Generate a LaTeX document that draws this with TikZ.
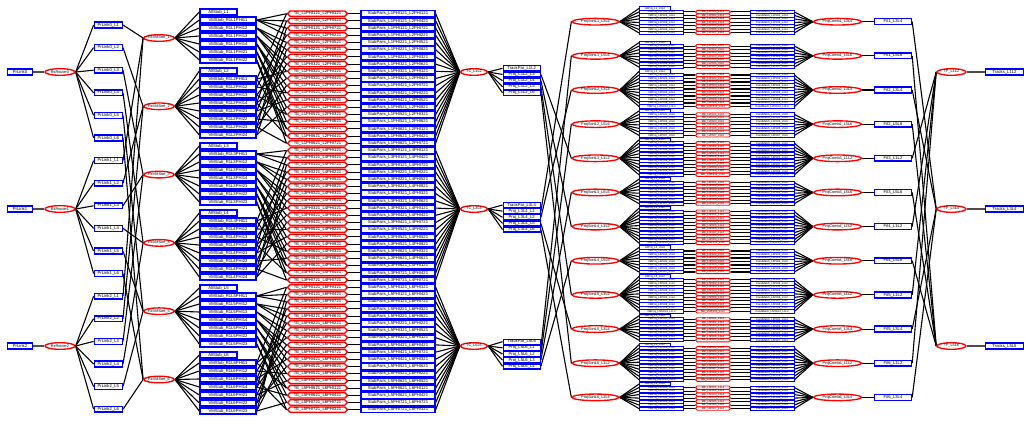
\documentclass[tikz,border=0pt]{standalone}
\usepackage{fontspec}
\setmainfont{Liberation Sans}
\usetikzlibrary{shapes.geometric,shapes.symbols}
\definecolor{memblue}{HTML}{0000FF}
\definecolor{procred}{HTML}{FF0000}
\pgfdeclarelayer{back}
\pgfdeclarelayer{bg}
\pgfsetlayers{back,bg,main}
\newcommand\myfontA{\fontsize{4.2}{4.2}\selectfont}
\newcommand\myfontE{\fontsize{3.8}{3.8}\selectfont}
\newcommand\myfontD{\fontsize{2.7}{2.7}\selectfont}
\tikzset{
  mem/.style={rectangle, draw=memblue, fill=white, line width=1.4pt, inner sep=0pt, minimum height=5.8pt, font=\myfontA, text=black},
  memd/.style={mem, line width=0.9pt, minimum height=3.2pt, font=\myfontD},
  proc/.style={ellipse, draw=procred, fill=white, line width=1.35pt, inner sep=0pt, minimum height=6.6pt, font=\myfontE, text=black},
  hexa/.style={signal, signal to=east and west, signal pointer angle=90, draw=procred, fill=white, line width=1.35pt, inner sep=0.3pt, minimum height=5.4pt, font=\myfontA, text=black},
  hexd/.style={hexa, line width=0.9pt, minimum height=3.2pt, font=\myfontD},
  wire/.style={draw=black, line width=1.1pt},
  fatwire/.style={draw=black!70, line width=1.9pt},
}
\begin{document}
\begin{tikzpicture}[x=1pt,y=-1pt]
\useasboundingbox (0,0) rectangle (1028,422);
\begin{pgfonlayer}{back}
\fill[white] (0,0) rectangle (1028,422);
\end{pgfonlayer}

% ================= NODES =================
% input links and routers
\foreach \kk/\y in {0/72,1/209,2/346}{
  \node[mem, minimum width=25pt] (pl\kk) at (20,\y) {PrLink\kk};
  \node[proc, minimum width=30pt] (rx\kk) at (60,\y) {RxRouter\kk};
}
% VM sorters
\foreach \jj in {1,...,6}{
  \pgfmathsetmacro\y{38+68.3*(\jj-1)}
  \node[proc, minimum width=29pt] (vms\jj) at (159,\y) {RxVMSort\_\jj};
}
% per-layer links
\foreach \i in {0,...,17}{
  \pgfmathtruncatemacro\kk{int(\i/6)}
  \pgfmathtruncatemacro\jj{mod(\i,6)+1}
  \pgfmathsetmacro\y{25+\i*22.6}
  \node[mem, minimum width=28pt] (plk\i) at (108.3,\y) {PrLink\kk\_L\jj};
}
% all stubs and VM stubs
\foreach \g/\hy/\nn in {1/12/6,2/71/8,3/146/7,4/213/8,5/288/7,6/355/7}{
  \node[mem, minimum width=37pt, anchor=west] (as\g) at (199.3,\hy) {AllStub\_L\g};
  \foreach \q in {1,...,\nn}{
    \pgfmathsetmacro\y{\hy+8*\q}
    \pgfmathtruncatemacro\pa{int((\q-1)/4)+1}
    \pgfmathtruncatemacro\pb{mod(\q-1,4)+1}
    \node[mem, minimum width=56pt, anchor=west] (vm\g-\q) at (199.3,\y) {VMStub\_R1L\g PHI\pa\pb};
  }
}
% tracklet calculators, parameters, fitters, outputs
\foreach \s/\sn/\y in {0/L1L2/72,1/L3L4/209,2/L5L6/346}{
  \node[proc, minimum width=27pt] (tc\s) at (474,\y) {TC\_\sn};
  \pgfmathsetmacro\yy{68.3+136.7*\s}
  \node[mem, minimum width=37pt, minimum height=5pt] (tp\s) at (521.7,\yy) {TrackPar\_\sn};
  \node[proc, minimum width=29pt] (tf\s) at (951.4,\y) {TF\_\sn};
  \node[mem, minimum width=38pt] (tr\s) at (1004.5,\y) {Tracks\_\sn};
}
% tracklet engines and stub pairs
\foreach \i in {0,...,55}{
  \pgfmathtruncatemacro\s{(\i>18)+(\i>37)}
  \pgfmathtruncatemacro\jj{\i-19*\s}
  \pgfmathtruncatemacro\nte{\s==2 ? 18 : 19}
  \pgfmathtruncatemacro\gin{2*\s+1}
  \pgfmathtruncatemacro\gout{2*\s+2}
  \pgfmathtruncatemacro\nIn{{6,8,7,8,7,7}[2*\s]}
  \pgfmathtruncatemacro\nOut{{6,8,7,8,7,7}[2*\s+1]}
  \pgfmathtruncatemacro\bIn{int(\jj*\nIn/\nte)+1}
  \pgfmathtruncatemacro\bOut{mod(\jj*3,\nOut)+1}
  \pgfmathsetmacro\y{13.7+7.2*\i}
  \node[hexa, minimum width=60pt] (te\i) at (317.5,\y) {TE\_L\gin PHI\bIn 21\_L\gout PHI\bOut 21};
  \node[mem, minimum width=74pt] (sp\i) at (398,\y) {StubPairs\_L\gin PHI\bIn 21\_L\gout PHI\bOut 21};
}
% projection routers, match engines, combiners, fits
\foreach \ri/\lay/\sn/\tfi/\nn in {0/1/L3L4/1/7, 1/1/L5L6/2/7, 2/2/L3L4/1/10, 3/2/L5L6/2/7, 4/3/L1L2/0/10, 5/3/L5L6/2/7, 6/4/L1L2/0/10, 7/4/L5L6/2/7, 8/5/L1L2/0/10, 9/5/L3L4/1/7, 10/6/L1L2/0/10, 11/6/L3L4/1/7}{
  \pgfmathsetmacro\yr{21.7+34.15*\ri}
  \node[proc, minimum width=47pt] (rt\ri) at (595.5,\yr) {ProjSortL\lay\_\sn};
  \node[proc, minimum width=48pt] (pc\ri) at (837.5,\yr) {ProjComb\lay\_\sn};
  \node[mem, minimum width=37pt] (fit\ri) at (893,\yr) {Fit\lay\_\sn};
  \pgfmathsetmacro\hy{\yr-1-1.75*\nn}
  \node[memd, minimum width=31pt, anchor=west] (ap\ri) at (639,\hy) {AllProj\_L\lay\_\sn};
  \foreach \q in {1,...,\nn}{
    \pgfmathsetmacro\y{\hy+3.5*\q}
    \node[memd, minimum width=44pt, anchor=west] (vp\ri-\q) at (639,\y) {VMProj\_L\lay PHI\q\_\sn};
    \node[hexd, minimum width=35pt] (me\ri-\q) at (713,\y) {ME\_L\lay PHI\q\_\sn};
    \node[memd, minimum width=44pt] (cm\ri-\q) at (772,\y) {CandMatch\_L\lay PHI\q\_\sn};
  }
}
% projections
\foreach \s/\m/\sn/\tl in {0/1/L1L2/3, 0/2/L1L2/4, 0/3/L1L2/5, 0/4/L1L2/6, 1/1/L3L4/1, 1/2/L3L4/2, 1/3/L3L4/5, 1/4/L3L4/6, 2/1/L5L6/1, 2/2/L5L6/2, 2/3/L5L6/3, 2/4/L5L6/4}{
  \pgfmathsetmacro\y{68.3+136.7*\s+6.15*\m}
  \node[mem, minimum width=37pt, minimum height=5pt] (pj\s-\m) at (521.7,\y) {Proj\_\sn\_L\tl};
}

% ================= CONNECTORS =================
\begin{pgfonlayer}{bg}
\foreach \kk in {0,1,2}{
  \draw[fatwire] (pl\kk.east) -- (rx\kk.west);
  \draw[wire] (tc\kk.east) -- (tp\kk.west);
  \draw[fatwire] (tf\kk.east) -- (tr\kk.west);
}
\foreach \i in {0,...,17}{
  \pgfmathtruncatemacro\kk{int(\i/6)}
  \pgfmathtruncatemacro\jj{mod(\i,6)+1}
  \draw[wire] (rx\kk.east) -- (plk\i.west);
  \draw[wire] (plk\i.east) -- (vms\jj.west);
}
\foreach \g/\nn in {1/6,2/8,3/7,4/8,5/7,6/7}{
  \draw[wire] (vms\g.east) -- (as\g.west);
  \foreach \q in {1,...,\nn}{
    \draw[wire] (vms\g.east) -- (vm\g-\q.west);
  }
}
\foreach \i in {0,...,55}{
  \pgfmathtruncatemacro\s{(\i>18)+(\i>37)}
  \pgfmathtruncatemacro\jj{\i-19*\s}
  \pgfmathtruncatemacro\nte{\s==2 ? 18 : 19}
  \pgfmathtruncatemacro\gin{2*\s+1}
  \pgfmathtruncatemacro\gout{2*\s+2}
  \pgfmathtruncatemacro\nIn{{6,8,7,8,7,7}[2*\s]}
  \pgfmathtruncatemacro\nOut{{6,8,7,8,7,7}[2*\s+1]}
  \pgfmathtruncatemacro\bIn{int(\jj*\nIn/\nte)+1}
  \pgfmathtruncatemacro\bOut{mod(\jj*3,\nOut)+1}
  \draw[wire] (vm\gin-\bIn.east) -- (te\i.west);
  \draw[wire] (vm\gout-\bOut.east) -- (te\i.west);
  \draw[wire] (te\i.east) -- (sp\i.west);
  \draw[wire] (sp\i.east) -- (tc\s.west);
}
\foreach \ri/\tfi/\nn in {0/1/7, 1/2/7, 2/1/10, 3/2/7, 4/0/10, 5/2/7, 6/0/10, 7/2/7, 8/0/10, 9/1/7, 10/0/10, 11/1/7}{
  \draw[wire] (pc\ri.east) -- (fit\ri.west);
  \draw[wire] (fit\ri.east) -- (tf\tfi.west);
  \draw[wire] (rt\ri.east) -- (ap\ri.west);
  \foreach \q in {1,...,\nn}{
    \draw[wire] (rt\ri.east) -- (vp\ri-\q.west);
    \draw[wire] (vp\ri-\q.east) -- (me\ri-\q.west);
    \draw[wire] (me\ri-\q.east) -- (cm\ri-\q.west);
    \draw[wire] (cm\ri-\q.east) -- (pc\ri.west);
  }
}
\foreach \s/\m/\ri in {0/1/4, 0/2/6, 0/3/8, 0/4/10, 1/1/0, 1/2/2, 1/3/9, 1/4/11, 2/1/1, 2/2/3, 2/3/5, 2/4/7}{
  \draw[wire] (tc\s.east) -- (pj\s-\m.west);
  \draw[wire] (pj\s-\m.east) -- (rt\ri.west);
}
\end{pgfonlayer}
\end{tikzpicture}
\end{document}
